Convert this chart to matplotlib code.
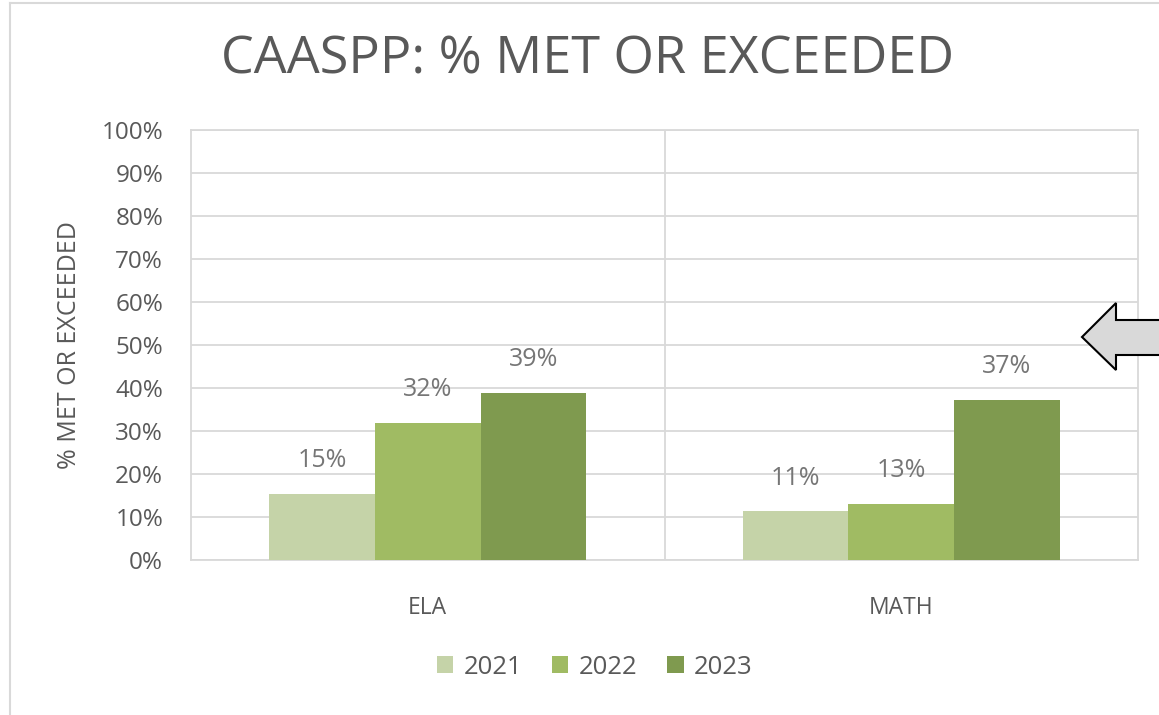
import matplotlib.pyplot as plt
import matplotlib.patches as mpatches
import numpy as np

subjects = ['ELA', 'MATH']
years = ['2021', '2022', '2023']
pct_2021 = [15.4, 11.3]
pct_2022 = [31.9, 13.1]
pct_2023 = [38.8, 37.2]
colors = ['#c5d3a8', '#a0bb63', '#7f9a4f']

plt.rcParams['font.family'] = ['Open Sans', 'DejaVu Sans']
grid_c = '#d9d9d9'
text_c = '#595959'

fig = plt.figure(figsize=(11.59, 7.15), dpi=100)
ax = fig.add_axes([0.1648, 0.2168, 0.8171, 0.6014])

x = np.arange(len(subjects))
w = 0.223
for i, vals in enumerate([pct_2021, pct_2022, pct_2023]):
    bars = ax.bar(x + (i - 1) * w, vals, w, color=colors[i], label=years[i], zorder=3)
    ax.bar_label(bars, labels=[f'{round(v)}%' for v in vals], padding=15,
                 fontsize=18, color='#767676')

ax.set_xlim(-0.5, 1.5)
ax.set_ylim(0, 100)
ax.set_yticks(np.arange(0, 101, 10))
ax.set_yticklabels([f'{v}%' for v in range(0, 101, 10)])
ax.set_xticks(x)
ax.set_xticklabels(subjects)
ax.tick_params(axis='y', length=0, pad=20, labelsize=17.5, labelcolor=text_c)
ax.tick_params(axis='x', length=0, pad=26, labelsize=16.5, labelcolor=text_c)
ax.yaxis.grid(True, color=grid_c, linewidth=1.3, zorder=0)
ax.axvline(0.5, color=grid_c, linewidth=1.3, zorder=0)
for s in ax.spines.values():
    s.set_color(grid_c)
    s.set_linewidth(1.3)

ax.set_ylabel('% MET OR EXCEEDED', fontsize=18, color=text_c)
ax.yaxis.set_label_coords(-0.115, 0.5)

fig.text(0.507, 0.916, 'CAASPP: % MET OR EXCEEDED', fontsize=37.5,
         color=text_c, ha='center', va='center')

fig.legend(loc='center', bbox_to_anchor=(0.513, 0.067), ncol=3, frameon=False,
           fontsize=18.5, labelcolor=text_c, handlelength=0.65, handleheight=0.65,
           handletextpad=0.4, columnspacing=1.15)

# outer chart frame
fig.add_artist(plt.Line2D([10 / 1159, 10 / 1159], [0, 1 - 3 / 715],
                          transform=fig.transFigure, color=grid_c, linewidth=1.5))
fig.add_artist(plt.Line2D([10 / 1159, 1158 / 1159], [1 - 3 / 715, 1 - 3 / 715],
                          transform=fig.transFigure, color=grid_c, linewidth=1.5))

# block arrow pointing at the math bars
arrow_px = [(1082, 337), (1116, 303), (1116, 320), (1165, 320),
            (1165, 355), (1116, 355), (1116, 370)]
arrow_pts = [(px / 1159, 1 - py / 715) for px, py in arrow_px]
fig.add_artist(mpatches.Polygon(arrow_pts, closed=True, transform=fig.transFigure,
                                facecolor='#d9d9d9', edgecolor='black', linewidth=1.5))

fig.savefig('out.png', dpi=100)
